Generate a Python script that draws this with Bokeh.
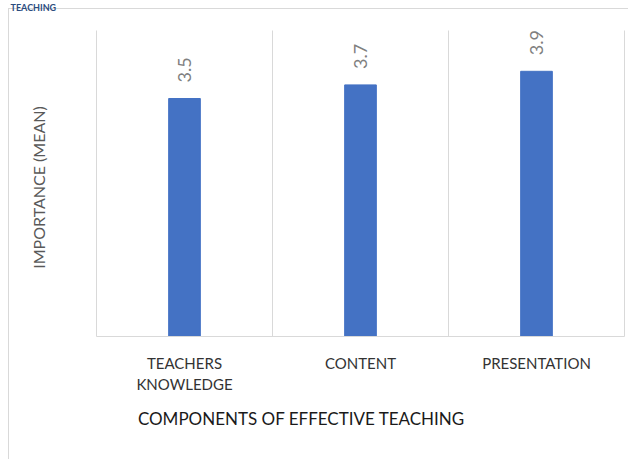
from bokeh.plotting import figure
from bokeh.models import ColumnDataSource, Range1d, Label, FixedTicker
from bokeh.core.properties import value
from bokeh.embed import file_html
from bokeh.resources import INLINE
import math

# ---- data ----
categories = ["TEACHERS KNOWLEDGE", "CONTENT", "PRESENTATION"]
tick_labels = ["TEACHERS\nKNOWLEDGE", "CONTENT", "PRESENTATION"]
means = [3.5, 3.7, 3.9]
value_labels = ["3.5", "3.7", "3.9"]
y_max = 4.5
chart_title = "TEACHING"
x_title = "COMPONENTS OF EFFECTIVE TEACHING"
y_title = "IMPORTANCE (MEAN)"

# ---- layout / style ----
W, H = 628, 459
L, R, T, B = 96, 624, 30, 336          # plot area in pixels
FONT = "Lato"
BAR = "#4472C4"
GRID = "#D9D9D9"

n = len(categories)
ppc = (R - L) / n                       # pixels per category
ppu = (B - T) / y_max                   # pixels per unit

centers = [i + 0.5 for i in range(n)]
bounds = list(range(n + 1))

src = ColumnDataSource(dict(x=centers, mean=means, lab=value_labels, cat=categories))

bg = ("linear-gradient(#D9D9D9,#D9D9D9) 8px 8px / 1px 100% no-repeat, "
      "linear-gradient(#D9D9D9,#D9D9D9) 8px 8px / 100% 1px no-repeat, white")
p = figure(
    x_range=Range1d(-L / ppc, n + (W - R) / ppc),
    y_range=Range1d(-(H - B) / ppu, y_max + T / ppu),
    width=W, height=H,
    min_border_left=0, min_border_right=0, min_border_top=0, min_border_bottom=0,
    output_backend="svg", toolbar_location=None,
    background_fill_color=None, border_fill_color=None,
    styles={"background": bg},
)
p.outline_line_color = None
p.grid.visible = False
p.yaxis.visible = False

# category boundary lines
p.segment(x0=bounds, y0=[0] * len(bounds), x1=bounds, y1=[y_max] * len(bounds),
          line_color=GRID, line_width=1)

p.vbar(x="x", top="mean", width=0.18, source=src, fill_color=BAR, line_color=BAR)

p.text(x="x", y="mean", text="lab", source=src, angle=math.pi / 2,
       text_align="left", text_baseline="middle", y_offset=-16,
       text_font=value(FONT), text_font_size="18px", text_color="#7F7F7F")

ax = p.xaxis[0]
ax.fixed_location = 0
ax.bounds = (0, n)
ax.ticker = FixedTicker(ticks=centers)
ax.major_label_overrides = {c: t for c, t in zip(centers, tick_labels)}
ax.axis_line_color = GRID
ax.axis_line_width = 1
ax.major_tick_line_color = None
ax.minor_tick_line_color = None
ax.major_tick_out = 0
ax.major_tick_in = 0
ax.major_label_standoff = 17
ax.major_label_text_font = FONT
ax.major_label_text_font_size = "15px"
ax.major_label_text_color = "#333333"

# titles (screen units, measured from the bottom-left of the canvas)
p.add_layout(Label(x=10, y=H - 7, x_units="screen", y_units="screen",
                   text=chart_title, text_baseline="alphabetic",
                   text_font=FONT, text_font_style="bold", text_font_size="9px",
                   text_color="#2B4C7E"))
p.add_layout(Label(x=301, y=H - 418, x_units="screen", y_units="screen",
                   text=x_title, text_align="center", text_baseline="alphabetic",
                   text_font=FONT, text_font_size="17px", text_color="#1A1A1A"))
p.add_layout(Label(x=38, y=H - 187, x_units="screen", y_units="screen",
                   text=y_title, angle=math.pi / 2, text_align="center",
                   text_baseline="middle", text_font=FONT, text_font_size="16px",
                   text_color="#595959"))

open("out.html", "w").write(file_html(p, INLINE))
